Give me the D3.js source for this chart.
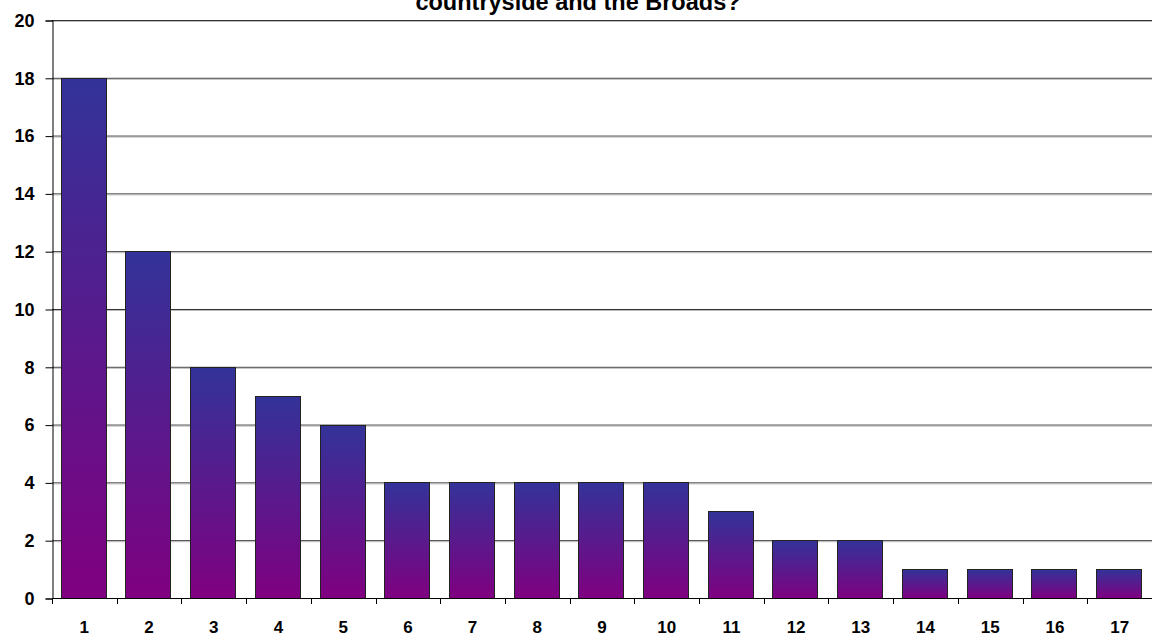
<!DOCTYPE html>
<html><head><meta charset="utf-8">
<script src="https://cdn.jsdelivr.net/npm/d3@7"></script>
<style>body{margin:0;background:#fff}svg{display:block}text{font-family:"Liberation Sans",Arial,sans-serif;font-weight:bold}</style>
</head><body><svg id="c" width="1152" height="637"></svg>
<script>
const categories = ["1","2","3","4","5","6","7","8","9","10","11","12","13","14","15","16","17"];
const values = [18,12,8,7,6,4,4,4,4,4,3,2,2,1,1,1,1];
const yTicks = [0,2,4,6,8,10,12,14,16,18,20];
const titleText = "countryside and the Broads?";

const svg = d3.select("#c");
const m = {left:52, right:1152, top:20, bottom:598};
const x = d3.scaleBand().domain(categories).range([m.left, m.right]).paddingInner(0.3).paddingOuter(0.15);
const y = d3.scaleLinear().domain([0,20]).range([m.bottom, m.top]);

const defs = svg.append("defs");
const g = defs.append("linearGradient").attr("id","grad").attr("x1",0).attr("y1",0).attr("x2",0).attr("y2",1);
g.append("stop").attr("offset","0%").attr("stop-color","#333399");
g.append("stop").attr("offset","100%").attr("stop-color","#800080");

// gridlines
svg.append("g").selectAll("line").data(yTicks.filter(d=>d>0)).join("line")
  .attr("x1",m.left).attr("x2",m.right).attr("y1",d=>y(d)+0.5).attr("y2",d=>y(d)+0.5)
  .attr("stroke","#333").attr("stroke-width",1);
svg.append("g").selectAll("line").data(yTicks.filter(d=>d>0)).join("line")
  .attr("x1",m.left).attr("x2",m.right).attr("y1",d=>y(d)+1.5).attr("y2",d=>y(d)+1.5)
  .attr("stroke","#bbb").attr("stroke-width",1);

// bars
svg.append("g").selectAll("rect").data(values).join("rect")
  .attr("x",(d,i)=>Math.round(x(categories[i]))-0.5)
  .attr("y",d=>Math.round(y(d))+0.5)
  .attr("width",Math.round(x.bandwidth()))
  .attr("height",d=>Math.round(y(0))-Math.round(y(d)))
  .attr("fill","url(#grad)").attr("stroke","#222").attr("stroke-width",1);

// y axis
const ya = svg.append("g").attr("transform",`translate(${m.left+0.5},0.5)`)
  .call(d3.axisLeft(y).tickValues(yTicks).tickSize(7).tickPadding(11));
ya.select(".domain").attr("stroke","#000");
ya.selectAll(".tick line").attr("stroke","#000");
ya.selectAll("text").attr("font-size",18).attr("fill","#000").attr("font-weight","bold");

// x axis
const xBoundaries = categories.slice(1).map(c=> x(c) - x.step()*x.paddingInner()/2);
const xa = svg.append("g");
xa.append("line").attr("x1",m.left).attr("x2",m.right).attr("y1",m.bottom+0.5).attr("y2",m.bottom+0.5).attr("stroke","#000");
xa.selectAll("line.t").data(xBoundaries.concat([m.left])).join("line").attr("class","t")
  .attr("x1",d=>Math.round(d)+0.5).attr("x2",d=>Math.round(d)+0.5)
  .attr("y1",m.bottom).attr("y2",m.bottom+6).attr("stroke","#000");
xa.selectAll("text").data(categories).join("text")
  .attr("x",d=>x(d)+x.bandwidth()/2).attr("y",633)
  .attr("text-anchor","middle").attr("font-size",17).attr("fill","#000").text(d=>d);

// title (upper part cut off at top edge, as in the reference)
svg.append("text").attr("x",578).attr("y",10)
  .attr("text-anchor","middle").attr("font-size",23.5).attr("fill","#000").text(titleText);
</script></body></html>
